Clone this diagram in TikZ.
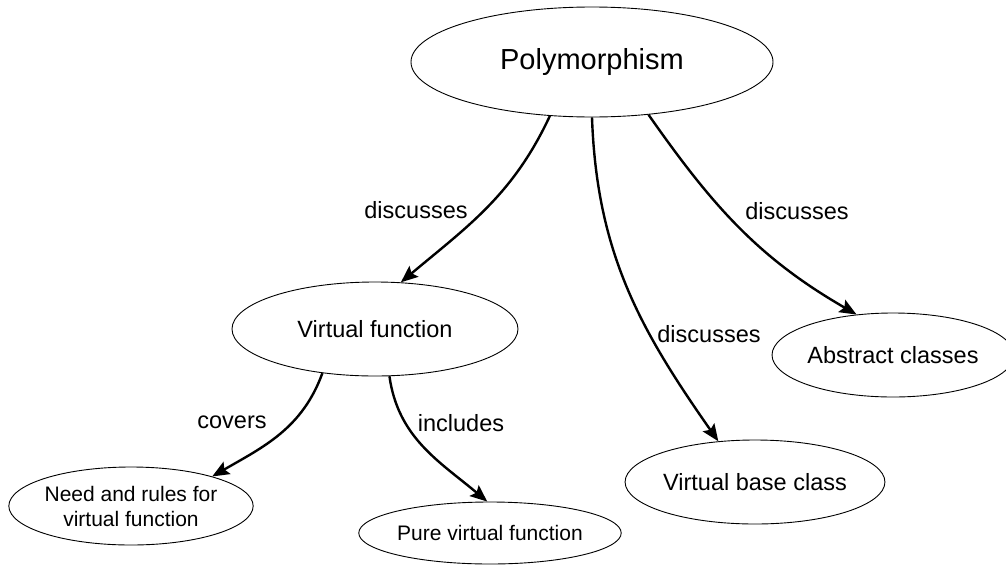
\documentclass[tikz,border=0pt]{standalone}
\usepackage{fontspec}
\setmainfont{Liberation Sans}
\usetikzlibrary{shapes.geometric,arrows.meta}
\begin{document}
\begin{tikzpicture}[>={Stealth[length=17pt,width=14pt,inset=3pt]}, x=1pt, y=-1pt,
  concept/.style={ellipse, draw, line width=.9pt, inner sep=0pt, align=center},
  link/.style={->, line width=2.4pt},
  lbl/.style={font=\fontsize{23.5}{26}\selectfont}]
\useasboundingbox (0,0) rectangle (1006,565);
\node[concept, minimum width=362, minimum height=110, font=\fontsize{29}{32}\selectfont] (poly) at (592,62) {Polymorphism};
\node[concept, minimum width=286, minimum height=94, font=\fontsize{23.5}{26}\selectfont] (vf) at (375,329) {Virtual function};
\node[concept, minimum width=224, minimum height=84, font=\fontsize{23.5}{26}\selectfont] (abs) at (893,355) {Abstract classes};
\node[concept, minimum width=246, minimum height=84, font=\fontsize{23.5}{26}\selectfont] (vbc) at (755,482) {Virtual base class};
\node[concept, minimum width=244, minimum height=78, font=\fontsize{21}{25}\selectfont] (need) at (131,506) {Need and rules for\\virtual function};
\node[concept, minimum width=240, minimum height=62, font=\fontsize{21}{24}\selectfont] (pure) at (490,533) {Pure virtual function};
% links
\draw[link] (poly.-128) to[out=-115, in=40] (vf.61);
\draw[link] (poly.-90) to[out=-88, in=125] (vbc.132);
\draw[link] (poly.-43) to[out=-55, in=150] (abs.132);
\draw[link] (vf.-140) to[out=-110, in=30] (need.20);
\draw[link] (vf.-73) to[out=-82, in=140] (pure.95);
\node[lbl] (d1) at (416,210) {discusses};
\node[lbl] (d2) at (709,334) {discusses};
\node[lbl] (d3) at (797,211) {discusses};
\node[lbl] (cv) at (232,422) {covers};
\node[lbl] (inc) at (461,423) {includes};
\end{tikzpicture}
\end{document}
